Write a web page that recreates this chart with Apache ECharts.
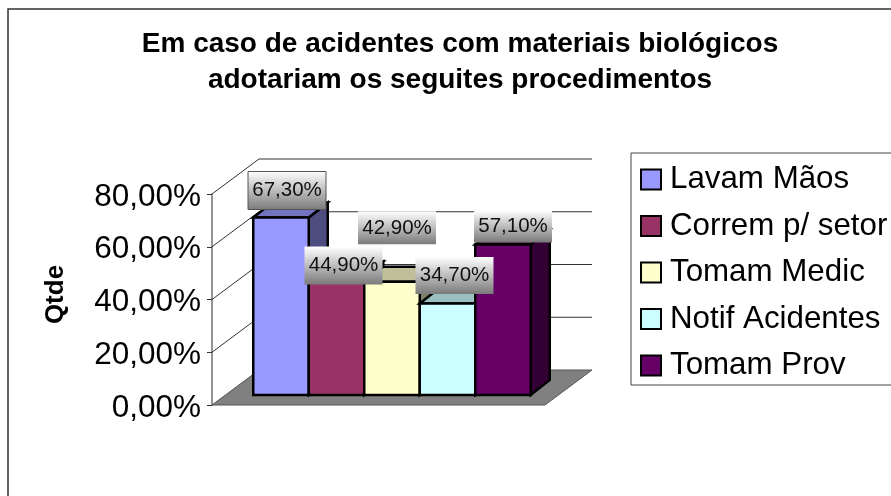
<!DOCTYPE html>
<html>
<head>
<meta charset="utf-8">
<style>html,body{margin:0;padding:0;background:#fff;overflow:hidden}#c{width:891px;height:496px}</style>
<script src="https://cdn.jsdelivr.net/npm/echarts@6/dist/echarts.min.js"></script>
</head>
<body>
<div id="c"></div>
<script>
const category = ['Qtde'];
const seriesNames = ['Lavam Mãos', 'Correm p/ setor', 'Tomam Medic', 'Notif Acidentes', 'Tomam Prov'];
const seriesValues = [67.3, 44.9, 42.9, 34.7, 57.1];
const axisTicks = [0, 20, 40, 60, 80];
const titleLines = ['Em caso de acidentes com materiais biológicos', 'adotariam os seguites procedimentos'];

const FONT = '"Liberation Sans", Arial, sans-serif';
const faces = [
  ['#9999FF', '#7373BF', '#4D4D80'],
  ['#993366', '#73264D', '#4D1A33'],
  ['#FFFFCC', '#BFBF99', '#808066'],
  ['#CCFFFF', '#99BFBF', '#668080'],
  ['#660066', '#4D004D', '#330033']
];
// Manual label placement of the original, relative to the bar's front top centre
const labelNudge = [[6, -27, 38], [7, -11, 38], [5, -54, 33], [7, -28, 37], [10, -18, 32]];
const WALL = [47, 35], PLANE = [13.5, 10], BAR = [19, 15];

const fmt = v => v.toFixed(2).replace('.', ',') + '%';

function renderWalls(params, api) {
  const v = api.value(0);
  const p = api.coord([0, v]);
  const size = api.size([1, 0]);
  const x0 = p[0] - size[0] / 2, x1 = p[0] + size[0] / 2;
  const children = [];
  if (v === 0) {
    children.push({
      type: 'polygon',
      shape: { points: [[x0, p[1]], [x1, p[1]], [x1 + WALL[0], p[1] - WALL[1]], [x0 + WALL[0], p[1] - WALL[1]]] },
      style: { fill: '#808080', stroke: '#555', lineWidth: 1 },
      z2: 1
    });
  } else {
    children.push({
      type: 'polyline',
      shape: { points: [[x0, p[1]], [x0 + WALL[0], p[1] - WALL[1]], [x1 + WALL[0], p[1] - WALL[1]]] },
      style: { fill: 'none', stroke: '#333', lineWidth: 1 },
      z2: 1
    });
  }
  return { type: 'group', children };
}

function makeBar(i) {
  return function (params, api) {
    const v = api.value(1);
    const top = api.coord([0, v]), base = api.coord([0, 0]);
    const w = api.size([1, 0])[0] / 6;
    const x0 = top[0] + (i - 2.5) * w + PLANE[0], x1 = x0 + w;
    const yt = top[1] - PLANE[1], yb = base[1] - PLANE[1];
    const line = { stroke: '#000', lineWidth: 2.5, lineJoin: 'miter' };
    const z = 10 + i * 2;
    const n = labelNudge[i];
    const cx = (x0 + x1) / 2 + n[0], cy = yt + n[1];
    const lw = 78, lh = n[2];
    return {
      type: 'group',
      children: [
        { type: 'polygon', z2: z,
          shape: { points: [[x1, yt], [x1 + BAR[0], yt - BAR[1]], [x1 + BAR[0], yb - BAR[1]], [x1, yb]] },
          style: Object.assign({ fill: faces[i][2] }, line) },
        { type: 'polygon', z2: z,
          shape: { points: [[x0, yt], [x0 + BAR[0], yt - BAR[1]], [x1 + BAR[0], yt - BAR[1]], [x1, yt]] },
          style: Object.assign({ fill: faces[i][1] }, line) },
        { type: 'rect', z2: z + 1,
          shape: { x: x0, y: yt, width: w, height: yb - yt },
          style: Object.assign({ fill: faces[i][0] }, line) },
        { type: 'rect', z2: 100 + i,
          shape: { x: cx - lw / 2, y: cy - lh / 2, width: lw, height: lh },
          style: {
            fill: new echarts.graphic.LinearGradient(0, 0, 0, 1, [
              { offset: 0, color: '#FFFFFF' }, { offset: 1, color: '#7A7A7A' }
            ]),
            stroke: i === 0 ? '#555' : 'none', lineWidth: 1
          } },
        { type: 'text', z2: 110 + i,
          style: { x: cx, y: cy, text: fmt(v), fill: '#111', font: '20.5px ' + FONT, align: 'center', verticalAlign: 'middle' } }
      ]
    };
  };
}

const series = [{
  type: 'custom', name: 'walls', silent: true, clip: false, coordinateSystem: 'cartesian2d',
  data: axisTicks.map(t => [t]), encode: { y: 0 }, renderItem: renderWalls
}].concat(seriesNames.map((name, i) => ({
  type: 'custom', name, clip: false, coordinateSystem: 'cartesian2d',
  itemStyle: { color: faces[i][0] },
  data: [[0, seriesValues[i]]], encode: { x: 0, y: 1 }, renderItem: makeBar(i)
})));

const chart = echarts.init(document.getElementById('c'), null, { renderer: 'canvas' });
chart.setOption({
  animation: false,
  backgroundColor: '#fff',
  title: {
    text: titleLines.join('\n'), left: 460, top: 26, textAlign: 'center', padding: 0,
    textStyle: { fontFamily: FONT, fontWeight: 'bold', fontSize: 28, lineHeight: 36, color: '#000' }
  },
  legend: {
    data: seriesNames, orient: 'vertical', left: 631, top: 153,
    padding: [9, 60, 2, 9], itemGap: 11.5, itemWidth: 20, itemHeight: 20,
    icon: 'rect', borderColor: '#444', borderWidth: 1, backgroundColor: '#fff',
    itemStyle: { borderColor: '#000', borderWidth: 2 },
    textStyle: { fontFamily: FONT, fontSize: 31.3, color: '#000', padding: [0, 0, 0, 4], lineHeight: 35 }
  },
  grid: { left: 212, top: 194, width: 333, height: 211, containLabel: false },
  xAxis: { type: 'category', data: category, axisLine: { show: false }, axisTick: { show: false }, axisLabel: { show: false } },
  yAxis: {
    type: 'value', min: 0, max: 80, interval: 20,
    name: 'Qtde', nameLocation: 'middle', nameGap: 143, nameRotate: 90,
    nameTextStyle: { fontFamily: FONT, fontWeight: 'bold', fontSize: 26, color: '#000', padding: [0, 0, 0, 10] },
    axisLine: { show: true, lineStyle: { color: '#707070', width: 1.5 } },
    axisTick: { show: true, length: 5, lineStyle: { color: '#333' } },
    splitLine: { show: false },
    axisLabel: { fontFamily: FONT, fontSize: 31.5, color: '#000', margin: 11, verticalAlign: 'top', lineHeight: 6, formatter: v => fmt(v) }
  },
  graphic: [{ type: 'rect', silent: true, z: -1, shape: { x: 8, y: 9, width: 1000, height: 1000 }, style: { fill: 'none', stroke: '#333', lineWidth: 1.5 } }],
  series
});
</script>
</body>
</html>
